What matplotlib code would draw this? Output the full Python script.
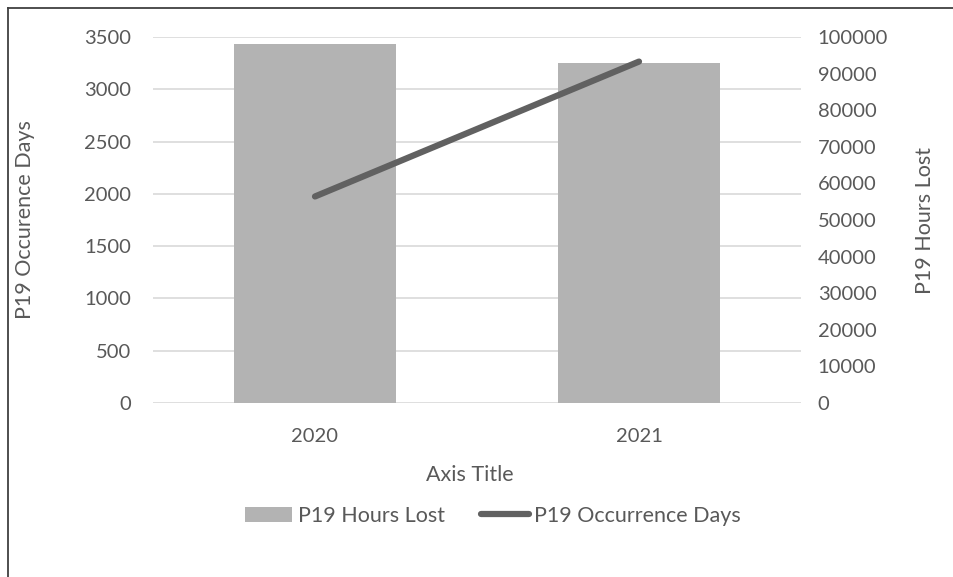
import matplotlib
matplotlib.use("Agg")
import matplotlib.pyplot as plt
from matplotlib.lines import Line2D
from matplotlib.patches import Patch

categories = ["2020", "2021"]
hours_lost = [98000, 93000]
occurrence_days = [1975, 3265]
left_ticks = [0, 500, 1000, 1500, 2000, 2500, 3000, 3500]
right_ticks = [0, 10000, 20000, 30000, 40000, 50000, 60000, 70000, 80000, 90000, 100000]

plt.rcParams['font.family'] = ['Lato', 'DejaVu Sans']
txt = '#595959'
bar_c = '#b3b3b3'
line_c = '#616161'
grid_c = '#d9d9d9'
fs = 14.5
fl = 15.5

W, H = 954, 577
fig = plt.figure(figsize=(W / 100, H / 100), dpi=100)
ax = fig.add_axes([153 / W, 1 - 403 / H, (801 - 153) / W, (403 - 37) / H])
ax2 = ax.twinx()

x = range(len(categories))
# bars on secondary (right) axis
ax2.bar(x, hours_lost, width=0.5, color=bar_c, zorder=2)
ax2.set_ylim(0, 100000)
ax2.set_yticks(right_ticks)

# line on primary (left) axis, drawn above bars
ax.set_zorder(ax2.get_zorder() + 1)
ax.patch.set_visible(False)
ax.plot(x, occurrence_days, color=line_c, linewidth=4.5, solid_capstyle='round', zorder=3)
ax.set_ylim(0, 3500)
ax.set_yticks(left_ticks)
ax.set_xlim(-0.5, 1.5)
ax.set_xticks(list(x))
ax.set_xticklabels(categories)

# gridlines drawn on the back axes
for v in left_ticks:
    ax2.axhline(v / 3500 * 100000, color=grid_c, linewidth=1.2, zorder=1)

for a in (ax, ax2):
    for s in a.spines.values():
        s.set_visible(False)
    a.tick_params(length=0, labelsize=fs, colors=txt)
ax.tick_params(axis='y', pad=16)
ax2.tick_params(axis='y', pad=12)
ax.tick_params(axis='x', pad=18)

fig.text(25 / W, 1 - 220 / H, "P19 Occurence Days", fontsize=fl, color=txt,
         rotation=90, ha='center', va='center')
fig.text(925 / W, 1 - 220 / H, "P19 Hours Lost", fontsize=fl, color=txt,
         rotation=90, ha='center', va='center')
fig.text(470 / W, 1 - 475 / H, "Axis Title", fontsize=fl, color=txt,
         ha='center', va='center')

handles = [Patch(facecolor=bar_c, edgecolor='none'),
           Line2D([0], [0], color=line_c, linewidth=4.5, solid_capstyle='round')]
fig.legend(handles, ["P19 Hours Lost", "P19 Occurrence Days"], loc='center',
           bbox_to_anchor=(493 / W, 1 - 516 / H), ncol=2, frameon=False,
           fontsize=fl, labelcolor=txt, handlelength=2.2, handletextpad=0.25,
           columnspacing=1.7, handleheight=0.75)

# chart border (top and left visible)
fig.add_artist(Line2D([8 / W, 8 / W], [0, 1 - 8 / H], color='#404040', linewidth=1.3))
fig.add_artist(Line2D([8 / W, 1], [1 - 8 / H, 1 - 8 / H], color='#404040', linewidth=1.3))

fig.savefig("out.png", dpi=100, facecolor='white')
